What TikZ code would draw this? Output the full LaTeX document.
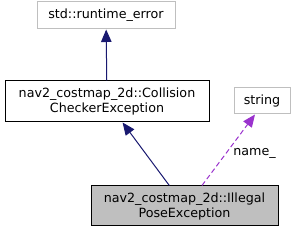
\documentclass[tikz,border=0pt]{standalone}
\usepackage{fontspec}
\setmainfont{DejaVu Sans}
\usetikzlibrary{arrows.meta,calc}
\definecolor{edgeblue}{HTML}{191970}
\definecolor{edgepurple}{HTML}{9A32CD}
\definecolor{lightborder}{HTML}{BFBFBF}
\definecolor{curfill}{HTML}{BFBFBF}
\begin{document}
\begin{tikzpicture}[x=1pt,y=-1pt,font=\fontsize{12.7}{15}\selectfont,
  cls/.style={draw=black,line width=1pt,fill=white,rectangle,inner sep=0pt,align=center},
  ext/.style={draw=lightborder,line width=1pt,fill=white,rectangle,inner sep=0pt,align=center},
  inherit/.style={draw=edgeblue,line width=1pt,-{Triangle[length=12.5pt,width=10.5pt,fill=edgeblue]}},
  usage/.style={draw=edgepurple,line width=1pt,dashed,dash pattern=on 5pt off 3pt,-{Triangle[length=12.5pt,width=10.5pt,fill=edgepurple]}}]
\useasboundingbox (0,0) rectangle (298,232);
\node[ext,minimum width=138pt,minimum height=27pt] (rt) at (106,15.5) {std::runtime\_error};
\node[cls,minimum width=204pt,minimum height=41pt] (cc) at (107,101.5) {nav2\_costmap\_2d::Collision\\CheckerException};
\node[ext,minimum width=56pt,minimum height=26pt] (str) at (262,101) {string};
\node[cls,fill=curfill,minimum width=187pt,minimum height=40pt] (ip) at (184.5,206) {nav2\_costmap\_2d::Illegal\\PoseException};
\draw[inherit] (cc) -- (rt);
\draw[inherit] (ip) -- (cc);
\coordinate (us) at ($(ip.north)+(17.5,0)$);
\coordinate (ue) at ($(str.south)+(-7,0)$);
\draw[usage] (us) -- (ue);
\node[inner sep=0pt] (lbl) at (254.5,153) {name\_};
\end{tikzpicture}
\end{document}
